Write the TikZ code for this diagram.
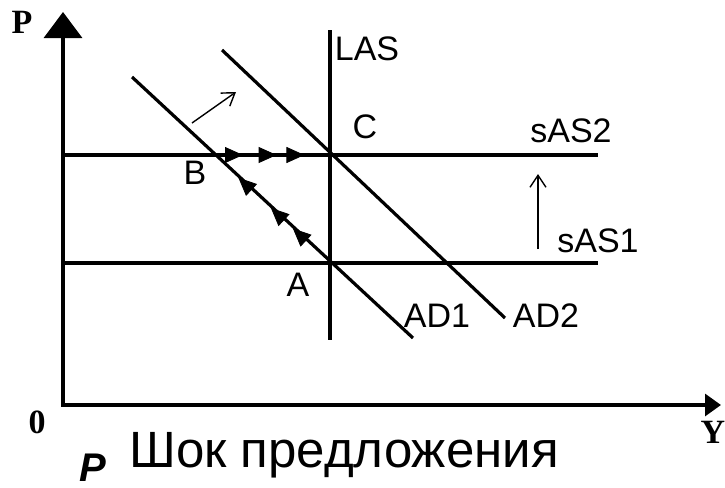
\documentclass[tikz,border=0pt]{standalone}
\usepackage{fontspec}
\setmainfont{Liberation Sans}
\newfontfamily\axisfont{Liberation Serif}
\usetikzlibrary{arrows.meta,decorations.markings}
\tikzset{
  curve/.style={line width=1.6pt},
  shift arrow/.style={line width=0.7pt,-{Straight Barb[length=6pt,width=8pt]}},
  lbl/.style={font=\fontsize{17}{17}\selectfont,inner sep=0pt},
  axlbl/.style={font=\axisfont\bfseries\fontsize{17}{17}\selectfont,inner sep=0pt},
  flow at/.style={postaction={decorate,decoration={markings,
      mark=at position #1 with {\arrow{Triangle[length=9pt,width=8pt]}}}}}
}
\begin{document}
\begin{tikzpicture}[x=0.5pt,y=-0.5pt]
\useasboundingbox (0,0) rectangle (725,488);
% axes
\draw[line width=1.6pt,{Triangle[length=13pt,width=19pt]}-{Triangle[length=8pt,width=11pt]}]
  (63,12) -- (63,405) -- (721,405);
\node[axlbl] at (22,22) {P};
\node[axlbl] at (37,422) {0};
\node[axlbl] at (713,432) {Y};
% equilibrium points
\coordinate (A) at (330,263);
\coordinate (B) at (214,155);
\coordinate (C) at (330,155);
% curves
\draw[curve] (330,30) -- (330,340);
\draw[curve] (63,155) -- (598,155);
\draw[curve] (63,263) -- (598,263);
\draw[curve] (132,77) -- (413,338);
\draw[curve] (222,50) -- (505,318);
% adjustment path
\path[flow at=0.32,flow at=0.51,flow at=0.79] (A) -- (B);
\path[flow at=0.25,flow at=0.54,flow at=0.78] (B) -- (C);
% shifts
\draw[shift arrow] (192,123) -- (236,92);
\draw[shift arrow] (538,249) -- (538,174);
% labels
\node[lbl] at (367,49) {LAS};
\node[lbl] at (365,127) {C};
\node[lbl] at (571,131) {sAS2};
\node[lbl] at (598,241) {sAS1};
\node[lbl] at (195,173) {B};
\node[lbl] at (298,285) {A};
\node[lbl] at (437,316) {AD1};
\node[lbl] at (546,316) {AD2};
\node[font=\fontsize{25.5}{25.5}\selectfont,inner sep=0pt] at (344,455) {Шок предложения};
\node[font=\bfseries\itshape\fontsize{20}{20}\selectfont,inner sep=0pt] at (93,468) {P};
\end{tikzpicture}
\end{document}
